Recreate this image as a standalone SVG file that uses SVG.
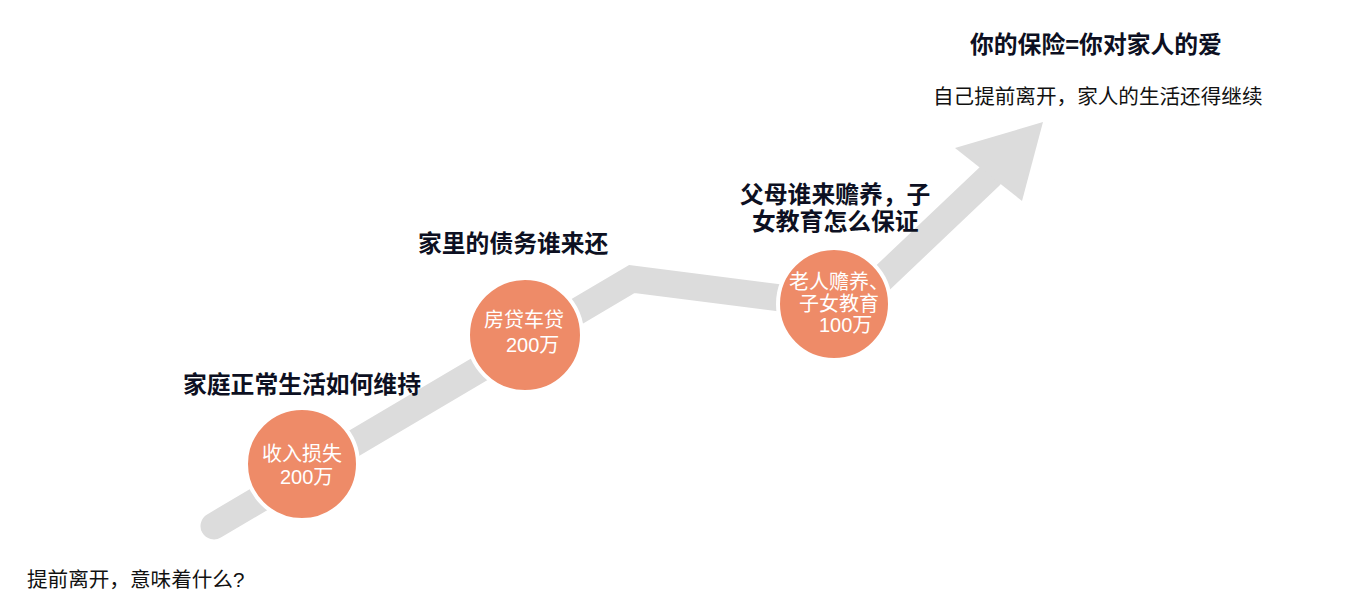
<svg xmlns="http://www.w3.org/2000/svg" width="1354" height="601" viewBox="0 0 1354 601">
<style>
.bg{fill:#ffffff}
.track{fill:none;stroke:#dcdcdc;stroke-width:27;stroke-linejoin:miter;stroke-linecap:round}
.head{fill:#dcdcdc}
.dot{fill:#ee8b68;stroke:#ffffff;stroke-width:4}
.in{font-family:"Liberation Sans","Noto Sans CJK SC",sans-serif;font-size:20px;fill:#ffffff}
.lbl{font-family:"Liberation Sans","Noto Sans CJK SC",sans-serif;font-size:23.8px;font-weight:bold;fill:#0d1022}
.txt{font-family:"Liberation Sans","Noto Sans CJK SC",sans-serif;font-size:20.6px;fill:#111111}
</style>
<rect class="bg" x="0" y="0" width="1354" height="601"/>
<g id="connectors">
  <polyline class="track" points="214,526 632,279 852,307 990,176"/>
  <polygon class="head" points="955,148 1043,122 1022,201"/>
</g>
<g id="node-income">
  <circle class="dot" cx="302" cy="464" r="56"/>
  <text class="in" x="262" y="461">收入损失</text>
  <text class="in" x="280" y="484">200万</text>
  <text class="lbl" x="183" y="393">家庭正常生活如何维持</text>
</g>
<g id="node-debt">
  <circle class="dot" cx="525" cy="335" r="57"/>
  <text class="in" x="484" y="327">房贷车贷</text>
  <text class="in" x="506" y="352">200万</text>
  <text class="lbl" x="418" y="252">家里的债务谁来还</text>
</g>
<g id="node-family">
  <circle class="dot" cx="834" cy="304" r="56"/>
  <text class="in" x="789" y="289">老人赡养、</text>
  <text class="in" x="799" y="311">子女教育</text>
  <text class="in" x="819" y="332">100万</text>
  <text class="lbl" x="740" y="203">父母谁来赡养，子</text>
  <text class="lbl" x="752" y="230">女教育怎么保证</text>
</g>
<g id="node-goal">
  <text class="lbl" x="970" y="53">你的保险=你对家人的爱</text>
  <text class="txt" x="933" y="104">自己提前离开，家人的生活还得继续</text>
</g>
<g id="node-question">
  <text class="txt" x="27" y="587">提前离开，意味着什么?</text>
</g>
</svg>
